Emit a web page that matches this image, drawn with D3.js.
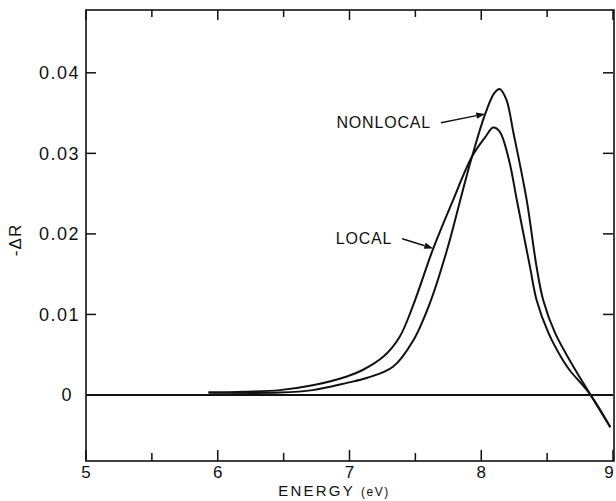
<!DOCTYPE html>
<html>
<head>
<meta charset="utf-8">
<script src="https://cdn.jsdelivr.net/npm/d3@7"></script>
<style>
  html, body { margin: 0; padding: 0; background: #fff; }
  svg { display: block; }
  text { font-family: "Liberation Sans", Arial, sans-serif; fill: #111; }
</style>
</head>
<body>
<svg id="chart" width="616" height="501"></svg>
<script>
// Reflectance change spectra, -ΔR versus photon energy
const localEnergy = [5.93, 6.20, 6.47, 6.72, 6.98, 7.10, 7.26, 7.38, 7.48, 7.636, 7.776, 7.93,
  8.03, 8.09, 8.14, 8.21, 8.27, 8.37, 8.42, 8.51, 8.62, 8.67, 8.83, 8.98];
const localDR = [0.0003, 0.0004, 0.0006, 0.0012, 0.0023, 0.0031, 0.0048, 0.0072, 0.0110, 0.0182, 0.0238, 0.0296,
  0.0320, 0.0332, 0.0327, 0.0292, 0.0242, 0.0159, 0.0118, 0.0077, 0.0043, 0.0031, 0.0000, -0.0040];

const nonlocalEnergy = [5.93, 6.47, 6.72, 6.98, 7.13, 7.33, 7.485, 7.61, 7.74, 7.86, 7.93, 8.03,
  8.10, 8.14, 8.19, 8.245, 8.345, 8.42, 8.47, 8.56, 8.70, 8.83, 8.98];
const nonlocalDR = [0.0003, 0.0003, 0.0006, 0.0015, 0.0021, 0.0035, 0.0068, 0.0114, 0.0180, 0.0254, 0.0296, 0.0349,
  0.0375, 0.0380, 0.0367, 0.0325, 0.0242, 0.0159, 0.0118, 0.0077, 0.0035, 0.0000, -0.0040];

const xTickValues = [5, 6, 7, 8, 9];
const xMinorTicks = [5.5, 6.5, 7.5, 8.5];
const yTickValues = [0, 0.01, 0.02, 0.03, 0.04];

// Curve labels: text, tail of the pointer and its tip on the curve (energy, -ΔR)
const annotationText = ["NONLOCAL", "LOCAL"];
const annotationTail = [[7.694, 0.0338], [7.40, 0.0194]];
const annotationTip = [[8.03, 0.0349], [7.636, 0.0182]];

const svg = d3.select("#chart");
const W = 616;
const plot = { left: 86, right: 613, top: 10, bottom: 461 };

const x = d3.scaleLinear().domain([5, 9]).range([plot.left, plot.right]);
const y = d3.scaleLinear().domain([-0.0082, 0.0478]).range([plot.bottom, plot.top]);

const ink = "#111";

// Frame
svg.append("rect")
  .attr("x", plot.left).attr("y", plot.top)
  .attr("width", plot.right - plot.left + 1).attr("height", plot.bottom - plot.top)
  .attr("fill", "none").attr("stroke", ink).attr("stroke-width", 1.6);

// Inward ticks on all four sides
const g = svg.append("g").attr("stroke", ink).attr("stroke-width", 1.5);
xTickValues.forEach(v => {
  g.append("line").attr("x1", x(v)).attr("x2", x(v)).attr("y1", plot.bottom).attr("y2", plot.bottom - 11);
  g.append("line").attr("x1", x(v)).attr("x2", x(v)).attr("y1", plot.top).attr("y2", plot.top + 10);
});
xMinorTicks.forEach(v => {
  g.append("line").attr("x1", x(v)).attr("x2", x(v)).attr("y1", plot.bottom).attr("y2", plot.bottom - 8);
  g.append("line").attr("x1", x(v)).attr("x2", x(v)).attr("y1", plot.top).attr("y2", plot.top + 7);
});
yTickValues.forEach(v => {
  g.append("line").attr("x1", plot.left).attr("x2", plot.left + 10).attr("y1", y(v)).attr("y2", y(v));
  g.append("line").attr("x1", plot.right).attr("x2", plot.right - 10).attr("y1", y(v)).attr("y2", y(v));
});

// Zero reference line
svg.append("line")
  .attr("x1", plot.left).attr("x2", plot.right)
  .attr("y1", y(0)).attr("y2", y(0))
  .attr("stroke", ink).attr("stroke-width", 2);

// Tick labels (the last one is kept inside the page edge)
svg.append("g").selectAll("text").data(xTickValues).join("text")
  .attr("x", d => Math.min(x(d), W - 7)).attr("y", 478)
  .attr("text-anchor", "middle")
  .style("font-size", "17px")
  .text(d => d);

const yFmt = d => d === 0 ? "0" : d3.format(".2f")(d);
svg.append("g").selectAll("text").data(yTickValues).join("text")
  .attr("x", d => d === 0 ? 73 : 80).attr("y", d => y(d))
  .attr("dy", "0.36em")
  .attr("text-anchor", "end")
  .style("font-size", "18px")
  .style("letter-spacing", "1.5px")
  .text(yFmt);

// Axis titles
const xt = svg.append("text")
  .attr("x", 334).attr("y", 496)
  .attr("text-anchor", "middle")
  .style("font-size", "15px")
  .style("letter-spacing", "2.2px");
xt.append("tspan").text("ENERGY ");
xt.append("tspan").style("font-size", "12px").style("letter-spacing", "1.5px").text("(eV)");

svg.append("text")
  .attr("transform", "translate(21,240) rotate(-90)")
  .attr("text-anchor", "middle")
  .style("font-size", "17px")
  .style("letter-spacing", "1px")
  .text("-ΔR");

// Spectra
const line = d3.line()
  .x(d => x(d[0])).y(d => y(d[1]))
  .curve(d3.curveCatmullRom.alpha(0.5));

const series = [
  d3.zip(localEnergy, localDR),
  d3.zip(nonlocalEnergy, nonlocalDR)
];
svg.append("g").selectAll("path").data(series).join("path")
  .attr("d", line)
  .attr("fill", "none")
  .attr("stroke", ink)
  .attr("stroke-width", 2)
  .attr("stroke-linejoin", "round");

// Curve labels with pointers
annotationText.forEach((label, i) => {
  const [tx, ty] = [x(annotationTail[i][0]), y(annotationTail[i][1])];
  const [hx, hy] = [x(annotationTip[i][0]), y(annotationTip[i][1])];
  svg.append("text")
    .attr("x", tx - 10).attr("y", ty + 5)
    .attr("text-anchor", "end")
    .style("font-size", "16px")
    .style("letter-spacing", "0.8px")
    .text(label);
  const ang = Math.atan2(hy - ty, hx - tx);
  const len = 9, half = 3.2;
  const bx = hx - len * Math.cos(ang), by = hy - len * Math.sin(ang);
  svg.append("line")
    .attr("x1", tx).attr("y1", ty).attr("x2", bx).attr("y2", by)
    .attr("stroke", ink).attr("stroke-width", 1.4);
  svg.append("path")
    .attr("d", `M${hx},${hy}L${bx - half * Math.sin(ang)},${by + half * Math.cos(ang)}L${bx + half * Math.sin(ang)},${by - half * Math.cos(ang)}Z`)
    .attr("fill", ink);
});
</script>
</body>
</html>
